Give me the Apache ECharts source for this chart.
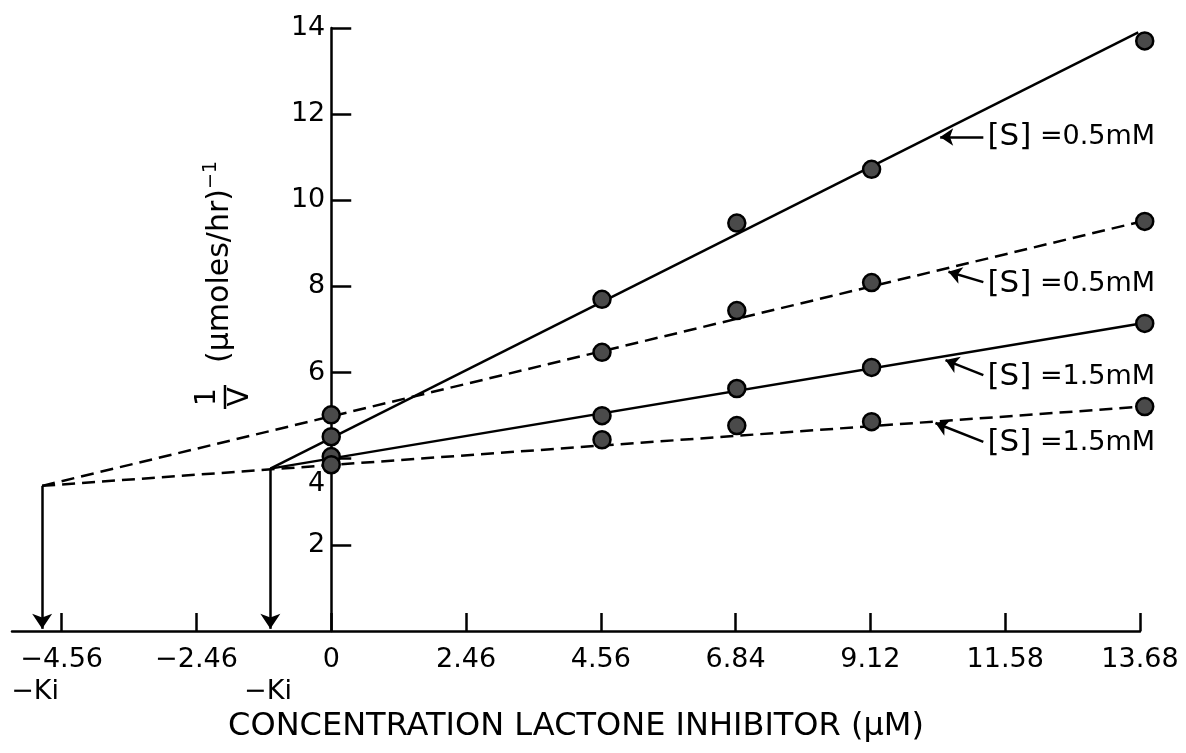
<!DOCTYPE html>
<html>
<head>
<meta charset="utf-8">
<title>Lactone inhibitor Dixon plot</title>
<script src="https://cdn.jsdelivr.net/npm/echarts@6/dist/echarts.min.js"></script>
<style>
  html, body { margin: 0; padding: 0; background: #fff; }
  #chart { width: 1186px; height: 753px; }
</style>
</head>
<body>
<div id="chart"></div>
<script>
// tick positions are evenly spaced, the printed labels are not
const xTickValues = [-4.56, -2.28, 0, 2.28, 4.56, 6.84, 9.12, 11.40, 13.68];
const xTickLabels = ["\u22124.56", "\u22122.46", "0", "2.46", "4.56", "6.84", "9.12", "11.58", "13.68"];
const yTickValues = [2, 4, 6, 8, 10, 12, 14];

// measured points, 1/V
const pointX = [0, 4.58, 6.86, 9.14, 13.76];
const s05Solid = [4.51, 7.70, 9.47, 10.72, 13.70];
const s05Dashed = [5.02, 6.47, 7.44, 8.09, 9.51];
const s15Solid = [4.05, 5.00, 5.63, 6.12, 7.14];
const s15Dashed = [3.86, 4.44, 4.77, 4.86, 5.21];

// fitted lines, from the intersection (-Ki) to the last point
const kiSolid = [-1.03, 3.77];
const kiDashed = [-4.89, 3.37];
const s05SolidFit = [kiSolid, [13.65, 13.90]];
const s05DashedFit = [kiDashed, [13.62, 9.48]];
const s15SolidFit = [kiSolid, [13.62, 7.12]];
const s15DashedFit = [kiDashed, [13.62, 5.20]];

// curve labels: text anchor, arrow tip, arrow tail
const curveLabels = ["0.5mM", "0.5mM", "1.5mM", "1.5mM"];
const labelAnchor = [[11.10, 11.47], [11.10, 8.06], [11.10, 5.90], [11.10, 4.37]];
const arrowTip = [[10.30, 11.47], [10.44, 8.34], [10.39, 6.29], [10.22, 4.83]];
const arrowTail = [[11.03, 11.47], [11.03, 8.10], [11.03, 5.94], [11.03, 4.39]];

// -Ki labels under the axis
const kiLabelPos = [[-5.01, -1.42], [-1.07, -1.42]];

const X_MIN = -5.4;
const X_MAX = 13.68;
const GRID_LEFT = 12;
const GRID_RIGHT = 46;
const FONT = "DejaVu Sans";

const chart = echarts.init(document.getElementById("chart"));

// y axis sits at x = 0, shift it in from the grid edge
const plotWidth = 1186 - GRID_LEFT - GRID_RIGHT;
const yAxisShift = (0 - X_MIN) / (X_MAX - X_MIN) * plotWidth;

const toPairs = ys => ys.map((y, i) => [pointX[i], y]);

const fitLine = (data, dashed) => ({
  type: "line",
  data: data,
  symbol: "none",
  silent: true,
  lineStyle: { color: "#000", width: 2.5, type: dashed ? [13, 7] : "solid" },
  z: 2
});

const pointSeries = ys => ({
  type: "scatter",
  data: toPairs(ys),
  clip: false,
  symbol: "circle",
  symbolSize: 17,
  silent: true,
  itemStyle: { color: "#4a4a4a", borderColor: "#000", borderWidth: 2.5, opacity: 1 },
  z: 3
});

const option = {
  backgroundColor: "#fff",
  animation: false,
  grid: { left: GRID_LEFT, right: GRID_RIGHT, top: 28, bottom: 122, containLabel: false, outerBoundsMode: "none" },
  xAxis: {
    type: "value",
    min: X_MIN,
    max: X_MAX,
    splitLine: { show: false },
    axisLine: { show: true, onZero: false, lineStyle: { color: "#000", width: 2.5 } },
    axisTick: { show: true, inside: true, length: 18, customValues: xTickValues, lineStyle: { color: "#000", width: 2.5 } },
    axisLabel: {
      customValues: xTickValues,
      margin: 15,
      color: "#000",
      fontFamily: FONT,
      fontSize: 27,
      formatter: v => {
        let best = 0;
        xTickValues.forEach((t, i) => { if (Math.abs(t - v) < Math.abs(xTickValues[best] - v)) best = i; });
        return xTickLabels[best];
      }
    },
    name: "CONCENTRATION LACTONE INHIBITOR (\u03bcM)",
    nameLocation: "middle",
    nameGap: 80,
    nameTextStyle: { color: "#000", fontFamily: FONT, fontSize: 32 }
  },
  yAxis: {
    type: "value",
    min: 0,
    max: 14,
    offset: -yAxisShift,
    splitLine: { show: false },
    axisLine: { show: true, onZero: false, lineStyle: { color: "#000", width: 2.5 } },
    axisTick: { show: true, inside: true, length: 20, customValues: yTickValues, lineStyle: { color: "#000", width: 2.5 } },
    axisLabel: {
      customValues: yTickValues,
      margin: 6,
      color: "#000",
      fontFamily: FONT,
      fontSize: 27,
      // the "4" is printed a little low, clear of the points at x = 0
      formatter: v => (v === 4 ? "{low|4}" : String(v)),
      rich: { low: { fontFamily: FONT, fontSize: 27, color: "#000", padding: [50, 0, 0, 0] } }
    }
  },
  graphic: [
    {
      type: "text",
      x: 220,
      y: 262,
      rotation: Math.PI / 2,
      style: {
        text: "{a|(\u03bcmoles/hr)}{s|\u22121}",
        align: "center",
        verticalAlign: "middle",
        fill: "#000",
        rich: {
          a: { fontFamily: FONT, fontSize: 30, lineHeight: 36, fill: "#000" },
          s: { fontFamily: FONT, fontSize: 19, lineHeight: 36, verticalAlign: "top", fill: "#000" }
        }
      }
    },
    {
      type: "group",
      x: 224,
      y: 397,
      rotation: Math.PI / 2,
      children: [
        { type: "text", x: 0, y: -16, style: { text: "1", fontFamily: FONT, fontSize: 28, align: "center", verticalAlign: "middle", fill: "#000" } },
        { type: "line", shape: { x1: -12, y1: 1, x2: 12, y2: 1 }, style: { stroke: "#000", lineWidth: 2.5 } },
        { type: "text", x: 0, y: 17, style: { text: "V", fontFamily: FONT, fontSize: 28, align: "center", verticalAlign: "middle", fill: "#000" } }
      ]
    }
  ],
  series: [
    fitLine(s05SolidFit, false),
    fitLine(s05DashedFit, true),
    fitLine(s15SolidFit, false),
    fitLine(s15DashedFit, true),
    pointSeries(s05Solid),
    pointSeries(s05Dashed),
    pointSeries(s15Solid),
    pointSeries(s15Dashed),
    {
      // -Ki drop arrows and curve label arrows
      type: "scatter",
      data: [],
      silent: true,
      markLine: {
        silent: true,
        animation: false,
        label: { show: false },
        lineStyle: { color: "#000", width: 2.5, type: "solid" },
        symbol: ["none", "arrow"],
        symbolSize: 15,
        data: [
          [{ coord: kiDashed }, { coord: [kiDashed[0], 0.05] }],
          [{ coord: kiSolid }, { coord: [kiSolid[0], 0.05] }]
        ].concat(arrowTip.map((tip, i) => [
          { coord: arrowTail[i], symbol: "none" },
          { coord: tip, symbol: "arrow", symbolSize: 13 }
        ]))
      }
    },
    {
      // curve labels
      type: "scatter",
      clip: false,
      silent: true,
      symbolSize: 0,
      itemStyle: { opacity: 1 },
      data: labelAnchor.map((p, i) => ({ value: p, name: curveLabels[i] })),
      label: {
        show: true,
        position: "right",
        distance: 0,
        color: "#000",
        opacity: 1,
        formatter: p => "{b|[S]}{t| =" + p.name + "}",
        rich: {
          b: { fontFamily: FONT, fontSize: 31, color: "#000" },
          t: { fontFamily: FONT, fontSize: 27, color: "#000" }
        }
      }
    },
    {
      // -Ki labels
      type: "scatter",
      clip: false,
      silent: true,
      symbolSize: 0,
      itemStyle: { opacity: 1 },
      data: kiLabelPos,
      label: {
        show: true,
        position: "inside",
        color: "#000",
        opacity: 1,
        fontFamily: FONT,
        fontSize: 27,
        formatter: "\u2212Ki"
      }
    }
  ]
};

chart.setOption(option);
</script>
</body>
</html>
